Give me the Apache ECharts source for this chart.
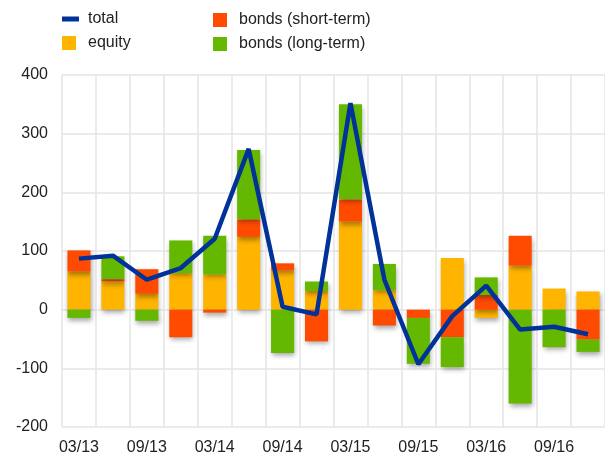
<!DOCTYPE html>
<html>
<head>
<meta charset="utf-8">
<script src="https://cdn.jsdelivr.net/npm/echarts@6/dist/echarts.min.js"></script>
<style>
  html, body { margin: 0; padding: 0; background: #fff; }
  #main { width: 605px; height: 457px; }
</style>
</head>
<body>
<div id="main"></div>
<script>
// Trimestres y valores
const quarters = ["03/13", "06/13", "09/13", "12/13", "03/14", "06/14", "09/14", "12/14",
  "03/15", "06/15", "09/15", "12/15", "03/16", "06/16", "09/16", "12/16"];
const equity = [65, 48, 27, 62, 60, 124, 67, 32, 150, 33, 0, 88, -14, 75, 36, 31];
const bondsShort = [36, 4, 42, -47, -5, 30, 12, -54, 38, -27, -14, -47, 25, 51, 0, -51];
const bondsLong = [-14, 39, -19, 56, 66, 118, -74, 16, 162, 45, -78, -51, 30, -160, -64, -21];
const total = [87, 92, 51, 71, 121, 274, 5, -8, 352, 51, -93, -11, 41, -34, -29, -42];

const fontFam = "'Liberation Sans', Arial, sans-serif";

const barShadow = {
  shadowColor: "rgba(0, 0, 0, 0.35)",
  shadowBlur: 5,
  shadowOffsetX: 1,
  shadowOffsetY: 3,
};

const makeBar = (name, data, color) => ({
  name: name,
  type: "bar",
  stack: "flows",
  barWidth: "68%",
  data: data,
  itemStyle: Object.assign({ color: color }, barShadow),
  emphasis: { disabled: true },
});

const initEChart = () => {
  const myChart = echarts.init(document.getElementById("main"));

  const legendText = { fontSize: 16, color: "#222", fontFamily: fontFam };

  const option = {
    animation: false,
    textStyle: { fontFamily: fontFam },
    legend: [
      {
        data: [{ name: "total", icon: "rect" }],
        left: 62, top: 11, padding: 0,
        itemWidth: 17, itemHeight: 5,
        textStyle: Object.assign({ padding: [0, 0, 0, 4] }, legendText),
      },
      {
        data: [{ name: "equity", icon: "rect" }],
        left: 62, top: 35, padding: 0,
        itemWidth: 14, itemHeight: 14,
        textStyle: Object.assign({ padding: [0, 0, 0, 7] }, legendText),
      },
      {
        data: [
          { name: "bonds (short-term)", icon: "rect" },
          { name: "bonds (long-term)", icon: "rect" },
        ],
        orient: "vertical",
        left: 213, top: 12, padding: 0,
        itemGap: 8,
        itemWidth: 14, itemHeight: 14,
        textStyle: Object.assign({ padding: [0, 0, 0, 7] }, legendText),
      },
    ],
    grid: { left: 62, right: 0, top: 75, bottom: 30 },
    xAxis: {
      type: "category",
      data: quarters,
      boundaryGap: true,
      axisLine: { show: false },
      axisTick: { show: false },
      axisLabel: { interval: 1, fontSize: 16, color: "#222", margin: 13, fontFamily: fontFam },
      splitLine: { show: true, interval: 0, lineStyle: { color: "#e4e4e4", width: 1.5 } },
    },
    yAxis: {
      type: "value",
      min: -200, max: 400, interval: 100,
      axisLine: { show: false },
      axisTick: { show: false },
      axisLabel: { fontSize: 16, color: "#222", margin: 14, fontFamily: fontFam },
      splitLine: { lineStyle: { color: "#e4e4e4", width: 1.5 } },
    },
    series: [
      makeBar("equity", equity, "#FFB400"),
      makeBar("bonds (short-term)", bondsShort, "#FF4B00"),
      makeBar("bonds (long-term)", bondsLong, "#65B800"),
      {
        name: "total",
        type: "line",
        data: total,
        symbol: "none",
        lineStyle: { color: "#003299", width: 4.5 },
        itemStyle: { color: "#003299" },
        z: 5,
      },
    ],
  };

  myChart.setOption(option);
  return myChart;
};

let chartInstance = initEChart();
</script>
</body>
</html>
